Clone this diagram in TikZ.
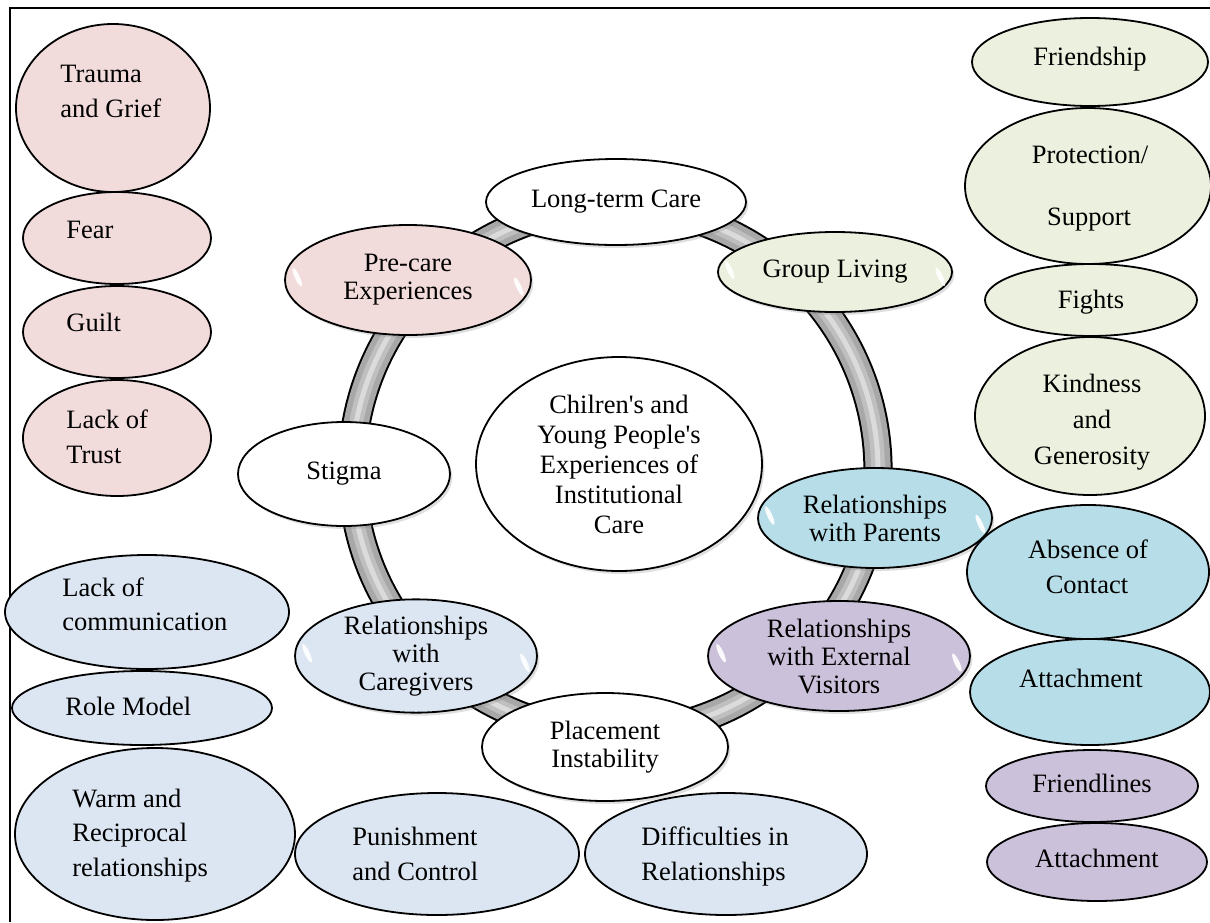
\documentclass[tikz,border=0pt]{standalone}
\usepackage{fontspec}
\setmainfont{Liberation Serif}
\usetikzlibrary{shapes.geometric,shadows,calc}
\definecolor{cpink}{HTML}{F2DCDB}
\definecolor{cgreen}{HTML}{EBF1DE}
\definecolor{clblue}{HTML}{DCE6F2}
\definecolor{cblue}{HTML}{B7DEE8}
\definecolor{cpurple}{HTML}{CCC1DA}
\newcommand\ov[6]{\node[oval,fill=#6,minimum width=#4pt,minimum height=#5pt] (#1) at (#2,#3) {};}
\newcommand\rn[7]{\node[ringnode,fill=#6,minimum width=#4pt,minimum height=#5pt] (#1) at (#2,#3) {#7};}
\newcommand\gloss[3]{%
  \begin{scope}[shift={(#1.center)}]
    \begin{scope}[shift={(-0.9*#2,-0.05*#3)},rotate=25]
      \fill[white,opacity=.9] (0,0) ellipse (2.5 and 10);
    \end{scope}
    \begin{scope}[shift={(0.9*#2,0.12*#3)},rotate=25]
      \fill[white,opacity=.9] (0,0) ellipse (2.5 and 10);
    \end{scope}
  \end{scope}}
\begin{document}
\begin{tikzpicture}[x=0.5pt,y=-0.5pt,
  font=\fontsize{13.25pt}{15pt}\selectfont,
  oval/.style={ellipse, draw=black, line width=0.9pt, inner sep=0pt},
  lbl/.style={inner sep=0pt, anchor=base west},
  clbl/.style={inner sep=0pt, anchor=base},
  ringnode/.style={oval, align=center,
    drop shadow={opacity=0.25, shadow xshift=1.2pt, shadow yshift=-1.5pt},
    font=\fontsize{13.25pt}{14pt}\selectfont}]
\useasboundingbox (0,0) rectangle (1210,922);
% frame
\coordinate (ftr) at (1210,8);
\coordinate (ftl) at (10,8);
\coordinate (fbl) at (10,922);
\draw[line width=1pt] (ftr) -- (ftl) -- (fbl);

% ring band
\coordinate (rc) at (615,470);
\draw[line width=14.6pt, black] (rc) circle[radius=131.5pt];
\draw[line width=12.6pt, gray!68] (rc) circle[radius=131.5pt];
\draw[line width=7pt, gray!50] (rc) circle[radius=131.5pt];
\draw[line width=2.5pt, gray!28] (rc) circle[radius=131.5pt];

% ring nodes
\rn{long}{616}{202}{130}{43}{white}{Long-term Care}
\rn{group}{835}{272}{117}{40}{cgreen}{Group Living}
\rn{precare}{408}{280}{123}{55}{cpink}{Pre-care\\Experiences}
\rn{stigma}{344}{474}{106}{52}{white}{Stigma}
\rn{parents}{875}{518}{117}{50}{cblue}{Relationships\\with Parents}
\rn{visitors}{839}{656}{131}{55}{cpurple}{Relationships\\with External\\Visitors}
\rn{caregivers}{416}{656}{121}{56}{clblue}{Relationships\\with\\Caregivers}
\rn{placement}{605}{747}{123}{54}{white}{Placement\\Instability}
\node[ringnode,fill=white,minimum width=143pt,minimum height=107pt,
  font=\fontsize{13.25pt}{15pt}\selectfont] (center) at (619,464)
  {Chilren\textquotesingle s and\\Young People\textquotesingle s\\Experiences of\\Institutional\\Care};
\gloss{group}{117}{40}
\gloss{precare}{123}{55}
\gloss{parents}{117}{50}
\gloss{visitors}{131}{55}
\gloss{caregivers}{121}{56}

% left column (pink)
\ov{trauma}{113}{108}{97}{84}{cpink}
\ov{fear}{117}{238}{94}{46}{cpink}
\ov{guilt}{117}{332}{94}{46}{cpink}
\ov{trust}{117}{438}{94}{58}{cpink}
\node[lbl] (trauma1) at (60,82) {Trauma};
\node[lbl] (trauma2) at (60,117) {and Grief};
\node[lbl] (fear1) at (66,238) {Fear};
\node[lbl] (guilt1) at (66,331) {Guilt};
\node[lbl] (trust1) at (66,428) {Lack of};
\node[lbl] (trust2) at (66,463) {Trust};

% left bottom (light blue)
\ov{comm}{147}{612}{142}{57}{clblue}
\ov{role}{142}{708}{130}{37}{clblue}
\ov{warm}{155}{834}{140}{86}{clblue}
\ov{punish}{437}{854}{142}{61}{clblue}
\ov{diff}{726}{854}{141}{61}{clblue}
\node[lbl] (comm1) at (62,596) {Lack of};
\node[lbl] (comm2) at (62,630) {communication};
\node[lbl] (role1) at (65,715) {Role Model};
\node[lbl] (warm1) at (72,807) {Warm and};
\node[lbl] (warm2) at (72,841) {Reciprocal};
\node[lbl] (warm3) at (72,876) {relationships};
\node[lbl] (punish1) at (352,845) {Punishment};
\node[lbl] (punish2) at (352,880) {and Control};
\node[lbl] (diff1) at (641,845) {Difficulties in};
\node[lbl] (diff2) at (641,880) {Relationships};

% right column (green)
\ov{friend}{1090}{62}{118}{44}{cgreen}
\ov{protect}{1088}{186}{123}{78}{cgreen}
\ov{fights}{1091}{300}{106}{36}{cgreen}
\ov{kind}{1090}{416}{115}{79}{cgreen}
\node[clbl] (friend1) at (1090,65) {Friendship};
\node[clbl] (protect1) at (1090,163) {Protection/};
\node[clbl] (protect2) at (1089,225) {Support};
\node[clbl] (fights1) at (1091,308) {Fights};
\node[clbl] (kind1) at (1092,392) {Kindness};
\node[clbl] (kind2) at (1092,428) {and};
\node[clbl] (kind3) at (1092,464) {Generosity};

% right (blue / purple)
\ov{absence}{1088}{572}{121}{67}{cblue}
\ov{attach}{1090}{692}{120}{53}{cblue}
\ov{friendl}{1092}{786}{106}{36}{cpurple}
\ov{attachp}{1097}{862}{110}{39}{cpurple}
\node[clbl] (absence1) at (1088,558) {Absence of};
\node[clbl] (absence2) at (1087,593) {Contact};
\node[clbl] (attach1) at (1081,687) {Attachment};
\node[clbl] (friendl1) at (1092,792) {Friendlines};
\node[clbl] (attachp1) at (1097,867) {Attachment};
\end{tikzpicture}
\end{document}
